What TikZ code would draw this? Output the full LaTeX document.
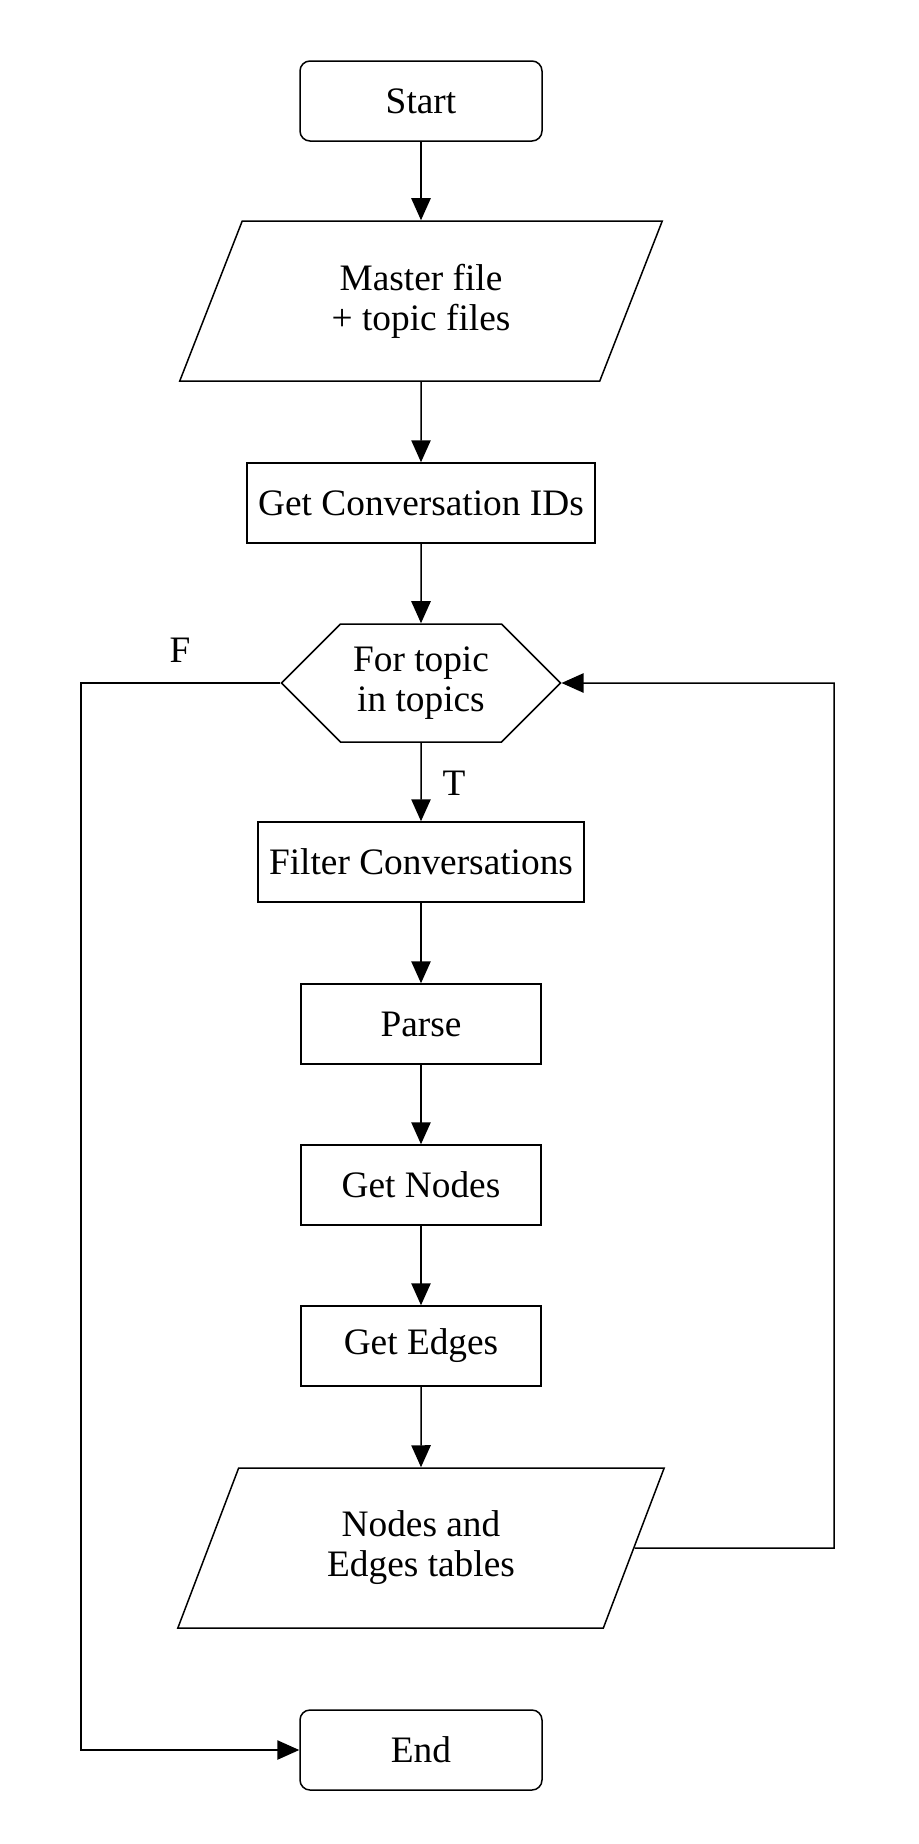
\documentclass[tikz,border=0pt]{standalone}
\usepackage{fontspec}
\setmainfont{Liberation Serif}
\usetikzlibrary{shapes.geometric,shapes.symbols,arrows.meta}

\begin{document}
\begin{tikzpicture}[x=0.3pt,y=-0.3pt,line width=0.45pt,
  font=\fontsize{11.2}{12}\selectfont,
  term/.style={draw,rounded corners=3pt,minimum width=72.6pt,minimum height=24pt},
  proc/.style={draw,minimum width=72pt,minimum height=24pt},
  io/.style={draw,trapezium,trapezium left angle=70,trapezium right angle=110,
    trapezium stretches=true,minimum width=146pt,minimum height=48pt,align=center},
  hexa/.style={draw,signal,signal to=west and east,signal pointer angle=90,
    minimum width=83.7pt,minimum height=35.4pt,align=center,inner sep=0pt},
  arr/.style={-{Triangle[length=6.6pt,width=5.8pt]}}]
\useasboundingbox (0,0) rectangle (919,1844);
\node[term] (start) at (421,101) {Start};
\node[io] (master) at (421,301) {Master file\\+ topic files};
\node[proc,minimum width=103.8pt] (ids) at (421,503) {Get Conversation IDs};
\node[hexa] (loop) at (421,683) {For topic\\in topics};
\node[proc,minimum width=97.8pt] (filter) at (421,862) {Filter Conversations};
\node[proc] (parse) at (421,1024) {Parse};
\node[proc] (nodes) at (421,1185) {Get Nodes};
\node[proc] (edges) at (421,1346) {Get Edges};
\node[io] (tables) at (421,1548) {Nodes and\\Edges tables};
\node[term] (end) at (421,1750) {End};
\node (lblF) at (180,650) {F};
\node (lblT) at (454,783) {T};
\coordinate (right) at (834,1548);
\coordinate (left) at (81,683);
\foreach \from/\to in {start/master,master/ids,ids/loop,loop/filter,filter/parse,parse/nodes,nodes/edges,edges/tables}
\draw[arr] (\from) -- (\to);
\draw[arr] (tables.east) -- (right) |- (loop.east);
\draw[arr] (loop.west) -- (left) |- (end.west);
\end{tikzpicture}
\end{document}
